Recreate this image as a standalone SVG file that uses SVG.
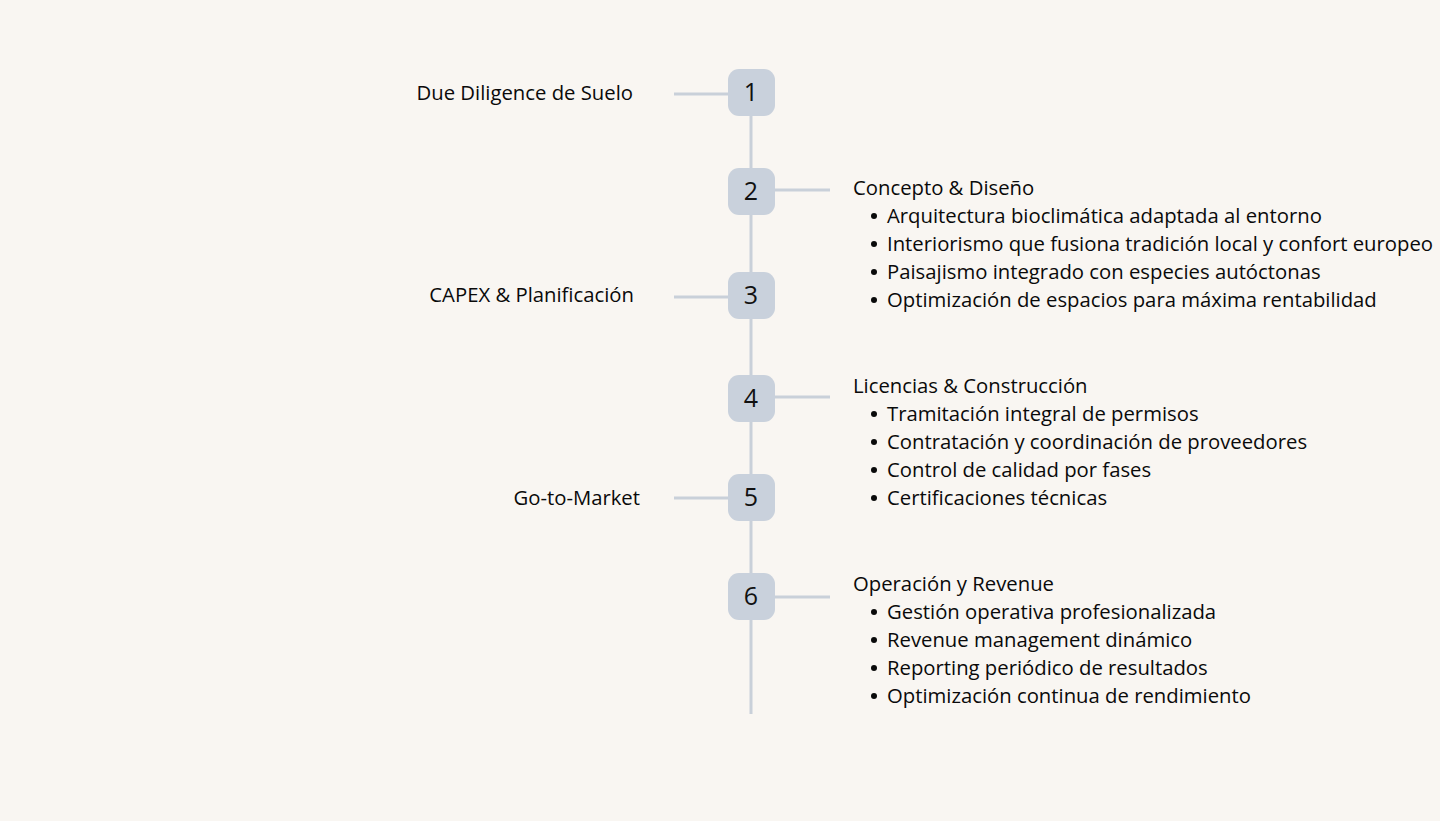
<svg xmlns="http://www.w3.org/2000/svg" width="1440" height="821" viewBox="0 0 1440 821">
<style>
.bg{fill:#f9f6f2}
.line{stroke:#c9d0d9;stroke-width:3;fill:none}
.box{fill:#c9d1dc}
.num{font-family:"Open Sans",sans-serif;font-size:25px;fill:#111;text-anchor:middle}
.lbl{font-family:"Open Sans",sans-serif;font-size:20.3px;fill:#0a0a0a}
.lft{text-anchor:end}
.dot{fill:#0a0a0a}
</style>
<rect class="bg" x="0" y="0" width="1440" height="821"/>
<g id="connectors">
<line class="line" x1="751" y1="100" x2="751" y2="714"/>
<line class="line" x1="674" y1="94" x2="740" y2="94"/>
<line class="line" x1="760" y1="190" x2="830" y2="190"/>
<line class="line" x1="674" y1="297" x2="740" y2="297"/>
<line class="line" x1="760" y1="397" x2="830" y2="397"/>
<line class="line" x1="674" y1="498" x2="740" y2="498"/>
<line class="line" x1="760" y1="597" x2="830" y2="597"/>
</g>
<g id="node1"><rect class="box" x="728" y="69" width="47" height="47" rx="11"/><text class="num" x="751" y="101">1</text>
<text class="lbl lft" x="633" y="100">Due Diligence de Suelo</text></g>
<g id="node2"><rect class="box" x="728" y="168" width="47" height="47" rx="11"/><text class="num" x="751" y="200">2</text>
<text class="lbl" x="853" y="195">Concepto &amp; Diseño</text>
<circle class="dot" cx="874" cy="216" r="3"/><text class="lbl" x="887" y="223">Arquitectura bioclimática adaptada al entorno</text>
<circle class="dot" cx="874" cy="244" r="3"/><text class="lbl" x="887" y="251">Interiorismo que fusiona tradición local y confort europeo</text>
<circle class="dot" cx="874" cy="272" r="3"/><text class="lbl" x="887" y="279">Paisajismo integrado con especies autóctonas</text>
<circle class="dot" cx="874" cy="300" r="3"/><text class="lbl" x="887" y="307">Optimización de espacios para máxima rentabilidad</text></g>
<g id="node3"><rect class="box" x="728" y="272" width="47" height="47" rx="11"/><text class="num" x="751" y="304">3</text>
<text class="lbl lft" x="634" y="302">CAPEX &amp; Planificación</text></g>
<g id="node4"><rect class="box" x="728" y="375" width="47" height="47" rx="11"/><text class="num" x="751" y="407">4</text>
<text class="lbl" x="853" y="393">Licencias &amp; Construcción</text>
<circle class="dot" cx="874" cy="414" r="3"/><text class="lbl" x="887" y="421">Tramitación integral de permisos</text>
<circle class="dot" cx="874" cy="442" r="3"/><text class="lbl" x="887" y="449">Contratación y coordinación de proveedores</text>
<circle class="dot" cx="874" cy="470" r="3"/><text class="lbl" x="887" y="477">Control de calidad por fases</text>
<circle class="dot" cx="874" cy="498" r="3"/><text class="lbl" x="887" y="505">Certificaciones técnicas</text></g>
<g id="node5"><rect class="box" x="728" y="474" width="47" height="47" rx="11"/><text class="num" x="751" y="506">5</text>
<text class="lbl lft" x="640" y="505">Go-to-Market</text></g>
<g id="node6"><rect class="box" x="728" y="573" width="47" height="47" rx="11"/><text class="num" x="751" y="605">6</text>
<text class="lbl" x="853" y="591">Operación y Revenue</text>
<circle class="dot" cx="874" cy="612" r="3"/><text class="lbl" x="887" y="619">Gestión operativa profesionalizada</text>
<circle class="dot" cx="874" cy="640" r="3"/><text class="lbl" x="887" y="647">Revenue management dinámico</text>
<circle class="dot" cx="874" cy="668" r="3"/><text class="lbl" x="887" y="675">Reporting periódico de resultados</text>
<circle class="dot" cx="874" cy="696" r="3"/><text class="lbl" x="887" y="703">Optimización continua de rendimiento</text></g>
</svg>
